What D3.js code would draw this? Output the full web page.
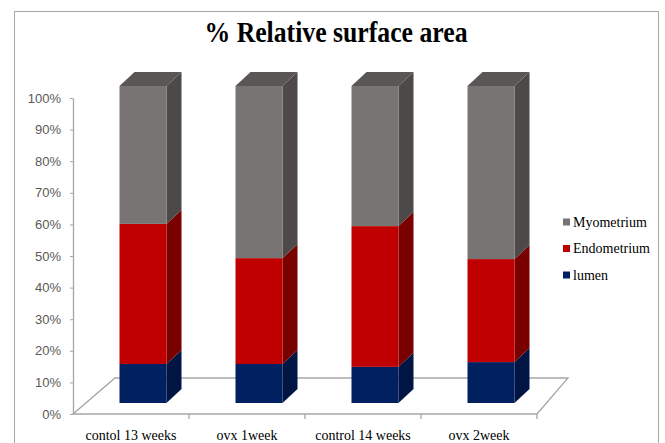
<!DOCTYPE html>
<html>
<head>
<meta charset="utf-8">
<script src="https://cdn.jsdelivr.net/npm/d3@7"></script>
<style>
  body { margin: 0; background: #fff; }
  svg { display: block; }
</style>
</head>
<body>
<div id="chart"></div>
<script>
// values (percent)
var categories = ["contol 13 weeks", "ovx 1week", "control 14 weeks", "ovx 2week"];
var lumen = [12.3, 12.3, 11.4, 12.9];
var endometrium = [44.2, 33.4, 44.4, 32.5];
var myometrium = [43.5, 54.3, 44.2, 54.6];
var seriesNames = ["lumen", "Endometrium", "Myometrium"];
var yTickValues = [0, 10, 20, 30, 40, 50, 60, 70, 80, 90, 100];

var width = 665, height = 443;

var svg = d3.select("#chart").append("svg")
    .attr("width", width)
    .attr("height", height);

// outer chart border
svg.append("rect")
    .attr("x", 14.5).attr("y", 11.5)
    .attr("width", 644).attr("height", 440)
    .style("fill", "none")
    .style("stroke", "#a6a6a6");

svg.append("text")
    .attr("x", 336).attr("y", 42)
    .attr("text-anchor", "middle")
    .attr("textLength", 263)
    .attr("lengthAdjust", "spacingAndGlyphs")
    .style("font-family", "'Liberation Serif', serif")
    .style("font-weight", "bold")
    .style("font-size", "30px")
    .text("% Relative surface area");

var x = d3.scaleBand().domain(categories).range([73, 537]);
var yAxisScale = d3.scaleLinear().domain([0, 100]).range([414, 98]);
var yBar = d3.scaleLinear().domain([0, 100]).range([403, 86]);

var depth = {dx: 15, dy: -14};
var floorDepth = {dx: 38, dy: -36};
var barW = 47;

// floor
var floor = svg.append("g")
    .style("fill", "none")
    .style("stroke", "#a6a6a6")
    .style("stroke-width", 1.3);
var x0 = x.range()[0], x1 = x.range()[1], yf = yAxisScale(0);
floor.append("path")
    .attr("d", "M" + x0 + "," + yf + "L" + (x0 + floorDepth.dx + 4) + "," + (yf + floorDepth.dy) +
               "L" + (x1 + floorDepth.dx - 7) + "," + (yf + floorDepth.dy) + "L" + x1 + "," + yf + "Z");
floor.selectAll("line.tick")
    .data(categories)
    .enter().append("line")
    .attr("x1", function(d) { return x(d) + x.bandwidth(); })
    .attr("x2", function(d) { return x(d) + x.bandwidth(); })
    .attr("y1", yf).attr("y2", yf + 5);

// y axis
var axis = svg.append("g")
    .attr("transform", "translate(73,0)")
    .call(d3.axisLeft(yAxisScale).tickValues(yTickValues)
        .tickFormat(function(d) { return d + "%"; })
        .tickSize(3).tickSizeOuter(0).tickPadding(9));
axis.select(".domain").style("stroke", "#a6a6a6").style("stroke-width", 1.3);
axis.selectAll(".tick line").style("stroke", "#a6a6a6");
axis.selectAll(".tick text")
    .style("font-family", "'Liberation Sans', Arial, sans-serif")
    .style("font-size", "13px")
    .style("fill", "#595959");

// stacked 3d bars
var table = categories.map(function(c, i) {
    return {cat: c, lumen: lumen[i], Endometrium: endometrium[i], Myometrium: myometrium[i]};
});
var stack = d3.stack().keys(seriesNames)(table);

var colors = {
    lumen:       {front: "#002060", side: "#001544", top: "#00184f"},
    Endometrium: {front: "#c00000", side: "#7a0000", top: "#960000"},
    Myometrium:  {front: "#787474", side: "#4d4949", top: "#5a5656"}
};

var bars = svg.append("g");
stack.forEach(function(layer, li) {
    var col = colors[layer.key];
    var g = bars.append("g");
    g.selectAll("path.side")
        .data(layer)
        .enter().append("path")
        .attr("d", function(d) {
            var l = x(d.data.cat) + 46.5 + barW, t = yBar(d[1]), b = yBar(d[0]);
            return "M" + l + "," + b + "L" + (l + depth.dx) + "," + (b + depth.dy) +
                   "L" + (l + depth.dx) + "," + (t + depth.dy) + "L" + l + "," + t + "Z";
        })
        .style("fill", col.side);
    g.selectAll("rect.front")
        .data(layer)
        .enter().append("rect")
        .attr("x", function(d) { return x(d.data.cat) + 46.5; })
        .attr("y", function(d) { return yBar(d[1]); })
        .attr("width", barW)
        .attr("height", function(d) { return yBar(d[0]) - yBar(d[1]); })
        .style("fill", col.front);
    if (li === stack.length - 1) {
        g.selectAll("path.top")
            .data(layer)
            .enter().append("path")
            .attr("d", function(d) {
                var l = x(d.data.cat) + 46.5, t = yBar(d[1]);
                return "M" + l + "," + t + "L" + (l + depth.dx) + "," + (t + depth.dy) +
                       "L" + (l + barW + depth.dx) + "," + (t + depth.dy) + "L" + (l + barW) + "," + t + "Z";
            })
            .style("fill", col.top);
    }
});

// category labels
svg.selectAll("text.cat")
    .data(categories)
    .enter().append("text")
    .attr("class", "cat")
    .attr("x", function(d) { return x(d) + x.bandwidth() / 2; })
    .attr("y", 440)
    .attr("text-anchor", "middle")
    .style("font-family", "'Liberation Serif', serif")
    .style("font-size", "14px")
    .text(function(d) { return d; });

// legend
var legendItems = seriesNames.slice().reverse();
var legend = svg.append("g").selectAll("g")
    .data(legendItems)
    .enter().append("g")
    .attr("transform", function(d, i) { return "translate(563," + (222 + i * 26.5) + ")"; });
legend.append("rect")
    .attr("x", 0).attr("y", -3.5)
    .attr("width", 7).attr("height", 7)
    .style("fill", function(d) { return colors[d].front; });
legend.append("text")
    .attr("x", 10).attr("y", 4.5)
    .style("font-family", "'Liberation Serif', serif")
    .style("font-size", "14px")
    .text(function(d) { return d; });
</script>
</body>
</html>
